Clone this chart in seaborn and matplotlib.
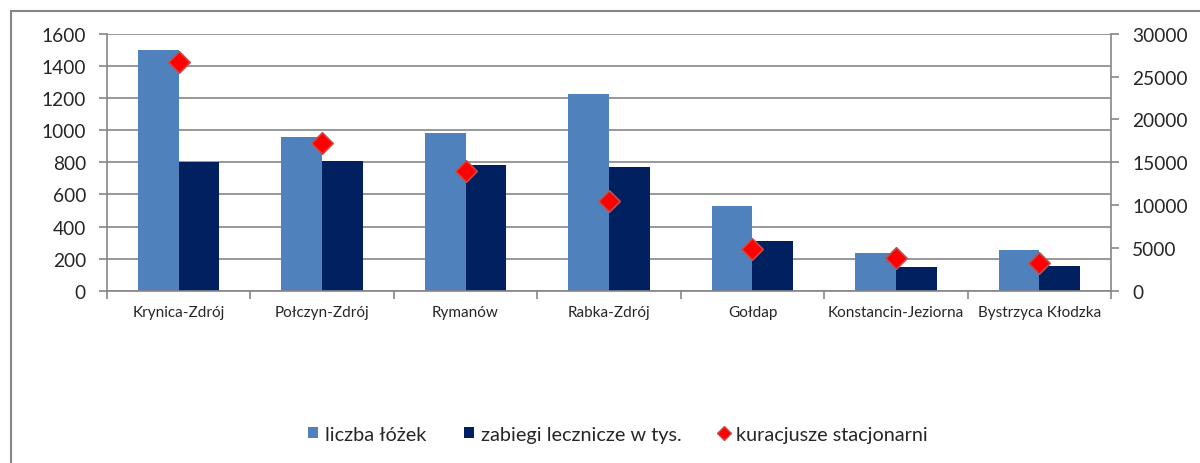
import numpy as np
import pandas as pd
import matplotlib
matplotlib.use('Agg')
import matplotlib.pyplot as plt
import seaborn as sns
from matplotlib.lines import Line2D
from matplotlib.patches import Patch, Rectangle

# Data
towns = ['Krynica-Zdrój', 'Połczyn-Zdrój', 'Rymanów', 'Rabka-Zdrój',
         'Gołdap', 'Konstancin-Jeziorna', 'Bystrzyca Kłodzka']
beds = [1500, 960, 985, 1225, 528, 235, 256]               # liczba łóżek
treatments = [800, 808, 784, 772, 312, 146, 156]           # zabiegi lecznicze w tys.
patients = [26700, 17300, 13950, 10480, 4870, 3780, 3240]  # kuracjusze stacjonarni

s_beds = 'liczba łóżek'
s_treat = 'zabiegi lecznicze w tys.'
s_pat = 'kuracjusze stacjonarni'

df = pd.DataFrame({'town': towns * 2,
                   'value': beds + treatments,
                   'series': [s_beds] * len(towns) + [s_treat] * len(towns)})

sns.set_style('white')
plt.rcParams['font.family'] = ['Lato', 'DejaVu Sans']

c_light = '#4F81BD'
c_dark = '#002060'
grey = '#868686'

fig = plt.figure(figsize=(12, 4.64), dpi=100)
ax = fig.add_axes([0.089, 0.371, 0.837, 0.554])

sns.barplot(data=df, x='town', y='value', hue='series', order=towns,
            palette=[c_light, c_dark], width=0.57, gap=0, saturation=1,
            linewidth=0, ax=ax, legend=False)

ax.set_ylim(0, 1600)
ax.set_yticks(np.arange(0, 1601, 200))
ax.set_xlim(-0.5, len(towns) - 0.5)
ax.yaxis.grid(True, color=grey, linewidth=1.2)
ax.set_axisbelow(True)
ax.set_xlabel('')
ax.set_ylabel('')
for side in ['top', 'right']:
    ax.spines[side].set_visible(False)
for side in ['left', 'bottom']:
    ax.spines[side].set_color(grey)
    ax.spines[side].set_linewidth(1.2)
ax.tick_params(axis='y', direction='out', length=6, color=grey, width=1.2,
               labelsize=13.8, pad=9, left=True)
ax.tick_params(axis='x', which='major', length=0, labelsize=11, pad=10)
ax.set_xticks(np.arange(-0.5, len(towns)), minor=True)
ax.tick_params(axis='x', which='minor', direction='out', length=6, color=grey,
               width=1.2, bottom=True)

ax2 = ax.twinx()
sns.scatterplot(x=np.arange(len(towns)), y=patients, marker='D', s=120,
                color='#FF0000', edgecolor='#C0504D', linewidth=1.2,
                ax=ax2, zorder=5)
ax2.set_ylim(0, 30000)
ax2.set_yticks(np.arange(0, 30001, 5000))
for side in ['top', 'left', 'bottom']:
    ax2.spines[side].set_visible(False)
ax2.spines['right'].set_color(grey)
ax2.spines['right'].set_linewidth(1.2)
ax2.tick_params(axis='y', direction='out', length=6, color=grey, width=1.2,
                labelsize=13.8, pad=9, right=True)

handles = [Patch(facecolor=c_light, edgecolor='none', label=s_beds),
           Patch(facecolor=c_dark, edgecolor='none', label=s_treat),
           Line2D([], [], marker='D', linestyle='none', markersize=7,
                  markerfacecolor='#FF0000', markeredgecolor='#C0504D',
                  label=s_pat)]
fig.legend(handles=handles, loc='center', bbox_to_anchor=(0.515, 0.062),
           ncol=3, frameon=False, fontsize=14.3, handlelength=0.5,
           handleheight=0.5, handletextpad=0.35, columnspacing=1.9)

# chart frame (clipped at right and bottom in the reference)
fig.add_artist(Rectangle((0.0092, -0.1), 1.2, 0.974 + 0.1,
                         transform=fig.transFigure, fill=False,
                         edgecolor=grey, linewidth=1.5))

fig.savefig('out.png', dpi=100)
